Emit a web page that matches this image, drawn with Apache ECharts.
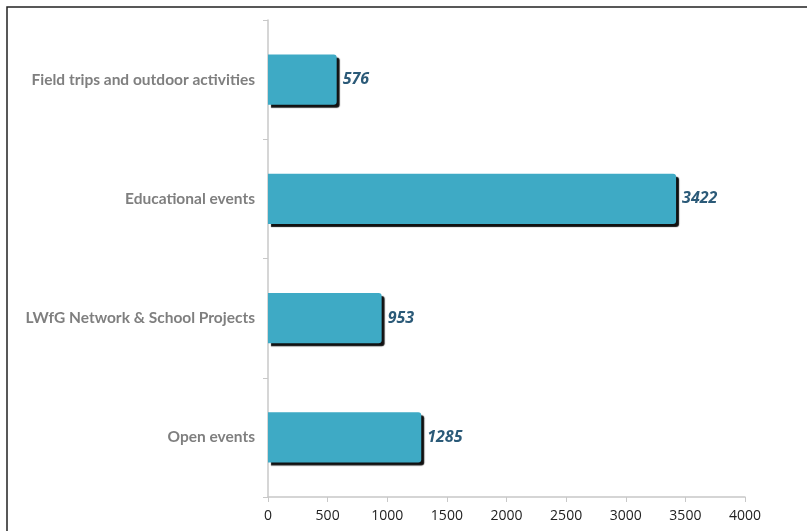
<!DOCTYPE html>
<html>
<head>
<meta charset="utf-8">
<script src="https://cdn.jsdelivr.net/npm/echarts@6/dist/echarts.min.js"></script>
<style>html,body{margin:0;padding:0;background:#fff}#c{width:807px;height:531px}</style>
</head>
<body>
<div id="c"></div>
<script>
const categories = ['Open events', 'LWfG Network & School Projects', 'Educational events', 'Field trips and outdoor activities'];
const values = [1285, 953, 3422, 576];
const xTicks = [0, 500, 1000, 1500, 2000, 2500, 3000, 3500, 4000];

const chart = echarts.init(document.getElementById('c'));
chart.setOption({
  backgroundColor: '#fff',
  animation: false,
  graphic: [{
    type: 'rect', shape: {x: 7, y: 7, width: 830, height: 560},
    style: {fill: 'none', stroke: '#222', lineWidth: 1.5}, silent: true, z: 100
  }],
  grid: {left: 268, right: 62, top: 20, bottom: 34},
  xAxis: {
    type: 'value', min: xTicks[0], max: xTicks[xTicks.length - 1], interval: 500,
    axisLine: {show: true, lineStyle: {color: '#c8c8c8', width: 1.5}},
    axisTick: {show: true, length: 5, lineStyle: {color: '#c8c8c8'}},
    splitLine: {show: false},
    axisLabel: {color: '#222', fontSize: 14, fontFamily: 'Open Sans', margin: 12,
      formatter: v => String(v)}
  },
  yAxis: {
    type: 'category', data: categories,
    axisLine: {show: true, lineStyle: {color: '#c8c8c8', width: 1.5}},
    axisTick: {show: true, length: 5, lineStyle: {color: '#c8c8c8'}},
    axisLabel: {color: '#7f7f7f', fontSize: 15.5, fontWeight: 'bold', fontFamily: 'Lato', margin: 13}
  },
  series: [{
    type: 'bar', data: values, barWidth: '42%',
    itemStyle: {
      color: '#3eaac5', borderRadius: [0, 3, 3, 0],
      shadowColor: '#111', shadowOffsetX: 3, shadowOffsetY: 3, shadowBlur: 1
    },
    label: {
      show: true, position: 'right', distance: 6,
      color: '#2b5a78', fontSize: 16, fontWeight: 'bold', fontStyle: 'italic', fontFamily: 'Open Sans'
    }
  }]
});
</script>
</body>
</html>
